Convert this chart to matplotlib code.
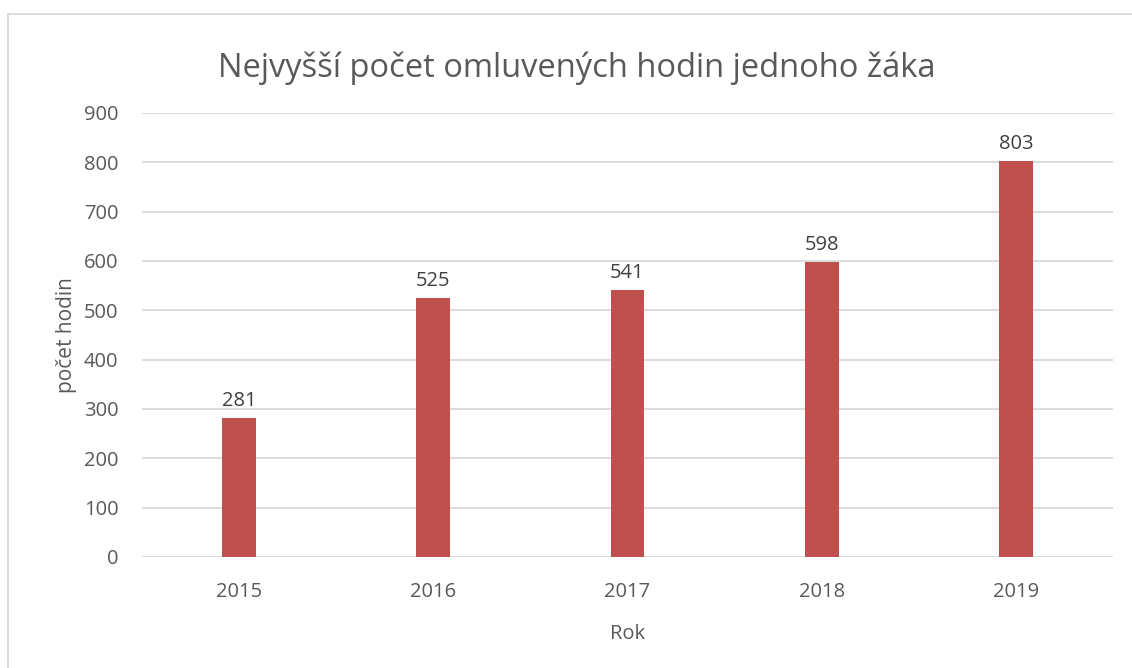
import numpy as np
import matplotlib.pyplot as plt
from matplotlib.lines import Line2D

years = ['2015', '2016', '2017', '2018', '2019']
hours = [281, 525, 541, 598, 803]

plt.rcParams['font.family'] = ['Open Sans', 'DejaVu Sans']
txt = '#595959'
W, H = 1132, 668

fig = plt.figure(figsize=(W / 100, H / 100), dpi=100)
ax = fig.add_axes([142 / W, 1 - 557 / H, (1113 - 142) / W, (557 - 113) / H])

x = np.arange(len(years))
ax.bar(x, hours, width=0.175, color='#C0504D', zorder=3)
for xi, v in zip(x, hours):
    ax.text(xi, v + 14, str(v), ha='center', va='bottom', fontsize=14.5, color='#404040')

ax.set_xlim(-0.5, len(years) - 0.5)
ax.set_ylim(0, 900)
ax.set_yticks(range(0, 901, 100))
ax.set_xticks(x)
ax.set_xticklabels(years)
ax.tick_params(axis='both', length=0, labelsize=14.5, colors=txt)
ax.tick_params(axis='x', pad=18)
ax.tick_params(axis='y', pad=17)
ax.yaxis.grid(True, color='#D9D9D9', linewidth=1.3, zorder=0)
for s in ax.spines.values():
    s.set_visible(False)

ax.set_xlabel('Rok', fontsize=14.5, color=txt, labelpad=16)
ax.set_ylabel('počet hodin', fontsize=15, color=txt, labelpad=5)
fig.text(0.5 * (218 + 935) / W, 1 - 68 / H, 'Nejvyšší počet omluvených hodin jednoho žáka',
         ha='center', va='center', fontsize=23.5, color=txt)

# chart frame (top and left only visible)
fig.add_artist(Line2D([8 / W, 8 / W], [0, 1 - 14 / H], transform=fig.transFigure, color='#D9D9D9', lw=1.3))
fig.add_artist(Line2D([8 / W, 1], [1 - 14 / H, 1 - 14 / H], transform=fig.transFigure, color='#D9D9D9', lw=1.3))

fig.savefig('out.png', dpi=100)
